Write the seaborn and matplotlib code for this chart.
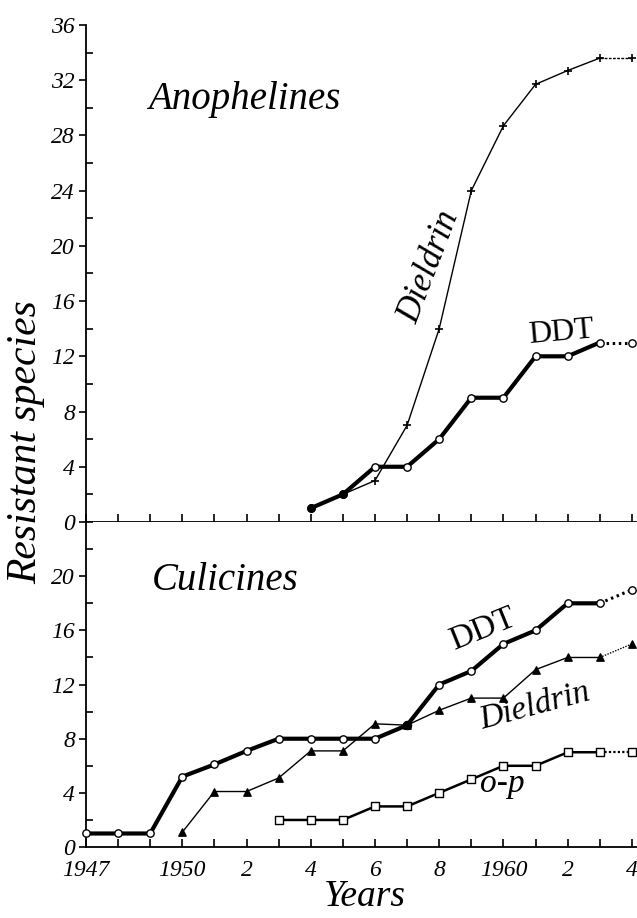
import pandas as pd
import seaborn as sns
import matplotlib.pyplot as plt
from matplotlib.ticker import MultipleLocator, FixedLocator, FixedFormatter

# === Datos ===
anoph_years = [1954, 1955, 1956, 1957, 1958, 1959, 1960, 1961, 1962, 1963, 1964]
anoph_ddt = [1, 2, 4, 4, 6, 9, 9, 12, 12, 13, 13]
anoph_diel = [1, 2, 3, 7, 14, 24, 28.7, 31.7, 32.7, 33.6, 33.6]
anoph_shared_years = [1954, 1955]
anoph_shared = [1, 2]

cul_ddt_years = list(range(1947, 1965))
cul_ddt = [1, 1, 1, 5.2, 6.1, 7.1, 8, 8, 8, 8, 9, 12, 13, 15, 16, 18, 18, 19]
cul_diel_years = list(range(1950, 1965))
cul_diel = [1.1, 4.1, 4.1, 5.1, 7.1, 7.1, 9.1, 9, 10.1, 11, 11, 13.1, 14, 14, 15]
cul_op_years = list(range(1953, 1965))
cul_op = [2, 2, 2, 3, 3, 4, 5, 6, 6, 7, 7, 7]
cul_shared_years = [1957]
cul_shared = [9]

x_tick_years = list(range(1947, 1965))
x_tick_labels = ["1947", "", "", "1950", "", "2", "", "4", "", "6", "", "8", "", "1960", "", "2", "", "4"]

sns.set_theme(style="ticks")
plt.rcParams["font.family"] = ["Liberation Serif", "DejaVu Serif"]
plt.rcParams["font.style"] = "italic"
plt.rcParams["axes.edgecolor"] = "black"
plt.rcParams["axes.linewidth"] = 1.3
plt.rcParams["text.color"] = "black"
plt.rcParams["xtick.color"] = "black"
plt.rcParams["ytick.color"] = "black"

fig = plt.figure(figsize=(6.37, 9.18), dpi=100)
ax_top = fig.add_axes([0.135, 0.4314, 0.865, 0.5414])
ax_bot = fig.add_axes([0.135, 0.0773, 0.865, 0.3540])


def serie(ax, years, vals, lw, marker, ms, mfc, dot_lw, dot_style):
    """Serie con el último tramo punteado."""
    sns.lineplot(x=years[-2:], y=vals[-2:], ax=ax, color="black", lw=dot_lw,
                 linestyle=dot_style, zorder=2)
    sns.lineplot(x=years[:-1], y=vals[:-1], ax=ax, color="black", lw=lw, zorder=2)
    sns.scatterplot(x=years, y=vals, ax=ax, marker=marker, s=ms, color=mfc,
                    edgecolor="black", linewidth=1.0, zorder=3, clip_on=False)


# Anophelines
sns.lineplot(x=anoph_years[-2:], y=anoph_diel[-2:], ax=ax_top, color="black",
             lw=1.0, linestyle=(0, (2, 1)), zorder=2)
sns.lineplot(x=anoph_years[:-1], y=anoph_diel[:-1], ax=ax_top, color="black", lw=1.0, zorder=2)
sns.scatterplot(x=anoph_years[2:], y=anoph_diel[2:], ax=ax_top, marker="+", s=40,
                color="black", linewidth=1.2, zorder=3, clip_on=False)
serie(ax_top, anoph_years, anoph_ddt, 3.0, "o", 28, "white", 2.2, (0, (0.8, 1.2)))
sns.scatterplot(x=anoph_shared_years, y=anoph_shared, ax=ax_top, marker="o", s=34,
                color="black", edgecolor="black", zorder=4)

# Culicines
serie(ax_bot, cul_op_years, cul_op, 1.8, "s", 30, "white", 1.6, (0, (1, 1)))
serie(ax_bot, cul_diel_years, cul_diel, 1.0, "^", 28, "black", 1.0, (0, (1, 1)))
serie(ax_bot, cul_ddt_years, cul_ddt, 3.0, "o", 28, "white", 2.2, (0, (0.8, 1.2)))
sns.scatterplot(x=cul_shared_years, y=cul_shared, ax=ax_bot, marker="o", s=40,
                color="black", edgecolor="black", zorder=4)

# Ejes
for ax in (ax_top, ax_bot):
    ax.set_xlim(1947, 1964.16)
    sns.despine(ax=ax)
    ax.xaxis.set_major_locator(FixedLocator(x_tick_years))
    ax.tick_params(axis="x", direction="in", length=6, width=1.2)
    ax.tick_params(axis="y", which="major", direction="out", length=5, width=1.2,
                   labelsize=17, pad=3)
    ax.tick_params(axis="y", which="minor", direction="in", length=5, width=1.2)
    ax.yaxis.set_minor_locator(MultipleLocator(2))
    ax.set_xlabel("")
    ax.set_ylabel("")

ax_top.set_ylim(0, 36)
ax_top.yaxis.set_major_locator(MultipleLocator(4))
ax_top.set_xticklabels([])

ax_bot.set_ylim(0, 24)
ax_bot.yaxis.set_major_locator(FixedLocator([0, 4, 8, 12, 16, 20]))
ax_bot.xaxis.set_major_formatter(FixedFormatter(x_tick_labels))
ax_bot.tick_params(axis="x", labelsize=17, pad=9)

# Textos
ax_top.text(1948.93, 29.9, "Anophelines", fontsize=28)
ax_bot.text(1949.05, 19.0, "Culicines", fontsize=28)
ax_top.text(1957.7, 18.5, "Dieldrin", fontsize=25, rotation=69, ha="center", va="center")
ax_top.text(1961.8, 13.7, "DDT", fontsize=23, style="normal", rotation=5, ha="center", va="center")
ax_bot.text(1959.36, 16.1, "DDT", fontsize=24, style="normal", rotation=22, ha="center", va="center")
ax_bot.text(1960.98, 10.4, "Dieldrin", fontsize=24, rotation=15, ha="center", va="center")
ax_bot.text(1959.98, 4.65, "o-p", fontsize=24, ha="center", va="center")

fig.text(0.04, 0.518, "Resistant species", fontsize=30, rotation=90, ha="center", va="center")
fig.text(0.573, 0.013, "Years", fontsize=27, ha="center", va="baseline")

fig.savefig("out.png", dpi=100)
